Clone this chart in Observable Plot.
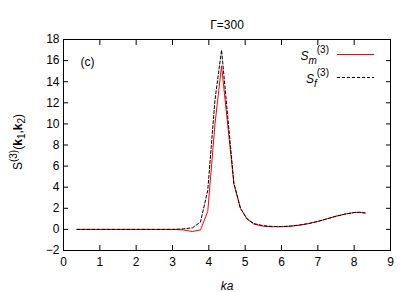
<!DOCTYPE html>
<html><head><meta charset="utf-8">
<script src="https://cdn.jsdelivr.net/npm/d3@7"></script>
<script src="https://cdn.jsdelivr.net/npm/@observablehq/plot@0.6"></script>
<style>body{margin:0;background:#fff;font-family:"Liberation Sans",Arial,sans-serif;}</style>
</head><body><div id="chart"></div>
<script>
const ka = [0.37, 1.0, 1.5, 2.0, 2.5, 3.0, 3.3, 3.55, 3.77, 3.97, 4.17, 4.35, 4.69, 4.87, 5.05, 5.24, 5.5, 5.75, 6.0, 6.25, 6.5, 6.75, 7.0, 7.25, 7.5, 7.75, 8.0, 8.15, 8.3];
const Sm = [0, 0, 0, 0, 0, 0, -0.05, -0.2, -0.05, 1.7, 10.0, 15.5, 4.3, 2.0, 1.0, 0.5, 0.3, 0.25, 0.25, 0.3, 0.4, 0.55, 0.75, 1.0, 1.25, 1.45, 1.6, 1.62, 1.55];
const Sf = [0, 0, 0, 0, 0, 0, 0.05, 0.15, 0.7, 3.7, 12.3, 17.0, 4.4, 2.0, 1.0, 0.55, 0.35, 0.28, 0.27, 0.32, 0.42, 0.56, 0.76, 1.0, 1.25, 1.45, 1.6, 1.62, 1.55];
const xTicks = [0,1,2,3,4,5,6,7,8,9];
const yTicks = [-2,0,2,4,6,8,10,12,14,16,18];
const title = "Γ=300";
const panelLabel = "(c)";
const xLabel = "ka";

const dm = ka.map((x,i)=>({x, y: Sm[i]}));
const df = ka.map((x,i)=>({x, y: Sf[i]}));
const fmt = d3.format("d");
const blank = () => "";

const plot = Plot.plot({
  width: 409, height: 292,
  marginLeft: 63, marginRight: 19, marginTop: 39, marginBottom: 42,
  style: {fontFamily: "Liberation Sans, Arial, sans-serif", fontSize: "12px", color: "#000", background: "#fff"},
  x: {domain: [0, 9]},
  y: {domain: [-2, 18]},
  marks: [
    Plot.frame({stroke: "#000", strokeWidth: 1}),
    Plot.axisX(xTicks, {anchor: "bottom", tickSize: -5, tickPadding: 12, tickFormat: fmt, label: null, fontSize: 12}),
    Plot.axisX(xTicks, {anchor: "top", tickSize: -5, tickFormat: blank, label: null}),
    Plot.axisY(yTicks, {anchor: "left", tickSize: -5, tickPadding: 9, tickFormat: fmt, label: null, fontSize: 12}),
    Plot.axisY(yTicks, {anchor: "right", tickSize: -5, tickFormat: blank, label: null}),
    Plot.line(dm, {x: "x", y: "y", stroke: "#ff0000", strokeWidth: 1}),
    Plot.line(df, {x: "x", y: "y", stroke: "#000", strokeWidth: 1, strokeDasharray: "3,2"}),
    Plot.text([title], {frameAnchor: "top", dy: -19, fontSize: 12}),
    Plot.text([panelLabel], {frameAnchor: "top-left", dx: 17, dy: 18, fontSize: 12}),
    Plot.text([xLabel], {frameAnchor: "bottom", dy: 39, fontSize: 12, fontStyle: "italic"})
  ]
});
document.getElementById("chart").append(plot);

const svg = d3.select(plot);
const g = svg.append("g").attr("font-family", "Liberation Sans, Arial, sans-serif").attr("font-size", 12);
const legend = [
  {sub: "m", stroke: "#ff0000", dash: null},
  {sub: "f", stroke: "#000", dash: "3,2"}
];
legend.forEach((d, i) => {
  const y = 54.5 + i * 23;
  const t = g.append("text").attr("x", 329).attr("y", y + 5).attr("text-anchor", "end");
  t.append("tspan").attr("font-style", "italic").text("S");
  t.append("tspan").attr("font-style", "italic").attr("font-size", 10).attr("dy", 4).text(d.sub);
  t.append("tspan").attr("font-size", 10).attr("dy", -11).text("(3)");
  g.append("line").attr("x1", 337).attr("x2", 374).attr("y1", y).attr("y2", y)
    .attr("stroke", d.stroke).attr("stroke-dasharray", d.dash);
});
const yl = g.append("text").attr("transform", "translate(22,142) rotate(-90)").attr("text-anchor", "middle");
yl.append("tspan").text("S");
yl.append("tspan").attr("font-size", 10).attr("dy", -5).text("(3)");
yl.append("tspan").attr("dy", 5).text("(");
yl.append("tspan").attr("font-weight", "bold").text("k");
yl.append("tspan").attr("font-size", 10).attr("dy", 3).text("1");
yl.append("tspan").attr("dy", -3).text(",");
yl.append("tspan").attr("font-weight", "bold").text("k");
yl.append("tspan").attr("font-size", 10).attr("dy", 3).text("2");
yl.append("tspan").attr("dy", -3).text(")");
</script></body></html>
